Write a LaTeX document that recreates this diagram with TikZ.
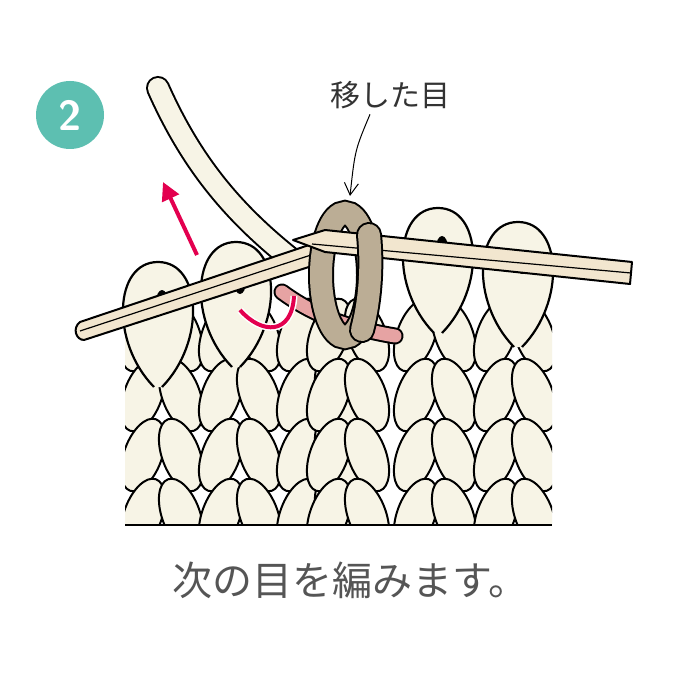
\documentclass[tikz,border=0pt]{standalone}
\usepackage{fontspec}
\newfontfamily\jp{Noto Sans CJK JP}
\usetikzlibrary{arrows.meta}
\definecolor{yarn}{HTML}{F7F4E6}
\definecolor{wood}{HTML}{F2E6CF}
\definecolor{moved}{HTML}{BBAD95}
\definecolor{strand}{HTML}{E6A3A3}
\definecolor{hook}{HTML}{E3004F}
\definecolor{badge}{HTML}{5DBFB1}
\definecolor{txt}{HTML}{555555}
\tikzset{
  leaf/.style={draw=black,fill=yarn,line width=2pt},
  loop/.style={draw=black,fill=yarn,line width=2.2pt},
  needle/.style={draw=black,fill=wood,line width=2pt,line join=round},
}
\newcommand{\strandpath}[3]{% width, fill colour, path
  \draw[line width=#1+4pt,line cap=round] #3;
  \draw[line width=#1,draw=#2,line cap=round] #3;}
\begin{document}
\begin{tikzpicture}[x=1pt,y=-1pt]
  \useasboundingbox[fill=white] (0,0) rectangle (700,700);

  % badge
  \node[circle,fill=badge,minimum size=68pt] (badge) at (70,115) {};
  \node[text=white,font=\sffamily\bfseries\fontsize{42}{42}\selectfont] (num) at (badge) {2};

  % working yarn
  \strandpath{20pt}{yarn}{(158,88) .. controls (190,160) and (230,210) .. (290,258)}

  % fabric
  \begin{scope}
    \clip (125,290) rectangle (552,525);
    \foreach \c in {162,240,318,348,435,515}{
      \foreach \r in {335,395,455,515,575}{
        \draw[leaf] (\c-19,\r) ellipse[x radius=19,y radius=38,rotate=-20];
        \draw[leaf] (\c+19,\r) ellipse[x radius=19,y radius=38,rotate=20];
      }
    }
  \end{scope}
  \draw[line width=2pt] (125,525) -- (552,525);

  % loops on the needles
  \foreach \c/\t in {158/262,236/242,438/208,518/222}{
    \draw[loop] (\c-4,\t+125) .. controls (\c-48,\t+80) and (\c-44,\t) .. (\c,\t)
       .. controls (\c+44,\t) and (\c+48,\t+80) .. (\c+4,\t+125);
    \fill[black] (\c+4,\t+40) ellipse[x radius=6,y radius=12];
  }

  % left needle
  \draw[needle] (80,322) .. controls (72,328) and (76,340) .. (84,340)
     -- (318,264) -- (312,244) -- cycle;
  \draw[line width=1.2pt] (80,331) -- (314,254);

  % pink strand
  \strandpath{13pt}{strand}{(282,292) .. controls (320,320) and (360,330) .. (395,336)}

  % moved stitch
  \strandpath{22pt}{moved}{(345,275) ellipse[x radius=24,y radius=62]}

  % right needle
  \draw[needle] (293,240) -- (325,230) -- (632,262) -- (630,284) -- (325,252) -- cycle;
  \draw[line width=1.2pt] (312,244) -- (631,273);
  \strandpath{22pt}{moved}{(369,235) .. controls (372,265) and (370,300) .. (362,330)}

  % hook arrows
  \draw[hook,line width=4pt,-{Triangle[length=18pt,width=18pt]}] (197,255) -- (163,182);
  \draw[white,line width=7pt] (240,310) .. controls (262,335) and (292,335) .. (294,296);
  \draw[hook,line width=4pt] (240,310) .. controls (262,335) and (292,335) .. (294,296);

  % label
  \node[text=black!80,font=\jp\fontsize{30}{30}\selectfont] (lbl) at (390,95) {移した目};
  \coordinate (tip) at (350,196);
  \draw[line width=1pt,-{Straight Barb[open,length=12pt,width=14pt]}]
     (lbl.south) ++(-20,2) .. controls (355,150) .. (tip);

  % caption
  \node[text=txt,font=\jp\fontsize{40}{40}\selectfont] (cap) at (350,580) {次の目を編みます。};
\end{tikzpicture}
\end{document}
